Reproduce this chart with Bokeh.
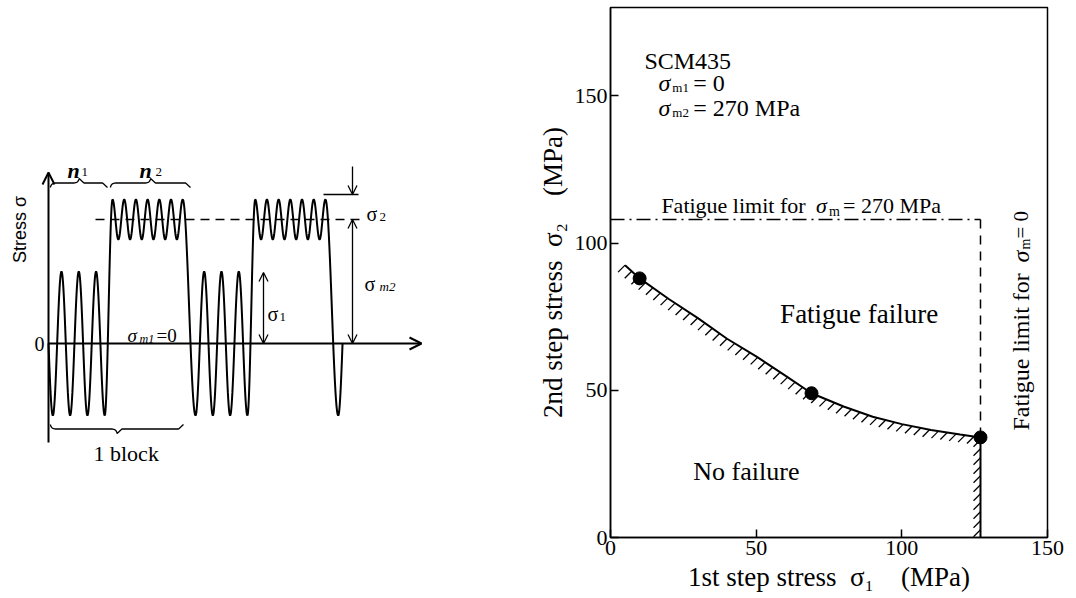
import numpy as np
from bokeh.plotting import figure
from bokeh.layouts import row
from bokeh.models import Label, Arrow, OpenHead, Range1d, FixedTicker
from bokeh.embed import file_html
from bokeh.resources import INLINE

SERIF = "Liberation Serif"
SANS = "Liberation Sans"

# ---------------- data (right chart) ----------------
sigma1_tests = [10, 69, 127]          # 1st step stress (MPa)
sigma2_tests = [88, 49, 34]           # 2nd step stress (MPa)
curve_sigma1 = [5, 10, 20, 30, 40, 50, 60, 69, 80, 90, 100, 110, 120, 127]
curve_sigma2 = [92.5, 88, 81, 74.5, 67.5, 61.5, 55, 49, 44.5, 41, 38.5, 36.5, 35, 34]
fatigue_limit_m270 = 108              # sigma_2 fatigue limit for sigma_m = 270 MPa
fatigue_limit_m0 = 127                # sigma_1 fatigue limit for sigma_m = 0
x_ticks = [0, 50, 100, 150]
y_ticks = [0, 50, 100, 150]

# ---------------- schematic parameters (left) ----------------
n1_cycles, n2_cycles = 3, 7
amp1, mean2, amp2 = 72, 124, 20
period1, period2 = 17.3, 11.7
rise_w, fall_w = 7.8, 12.8

FT, FB = 7, 537          # frame top / bottom (page px)
LW = 534                 # left figure width
H = 598

# =============== LEFT: load pattern schematic ===============
OX, OY = 48, 343
def L(xp, yp):
    return xp - OX, OY - yp

left = figure(width=LW, height=H, x_range=Range1d(0 - OX, LW - OX),
              y_range=Range1d(OY - FB, OY - FT), x_axis_type=None, y_axis_type=None,
              toolbar_location=None, output_backend="svg",
              min_border_left=0, min_border_right=0, min_border_top=FT, min_border_bottom=H - FB,
              outline_line_color=None, title=None)
left.grid.visible = False

def cos_seg(t0, s0, t1, s1, n=24):
    u = np.linspace(0, 1, n)
    return list(t0 + (t1 - t0) * u), list(s0 + (s1 - s0) * (1 - np.cos(np.pi * u)) / 2)

ext = []
T = period1 / 4
for blk in range(2):
    for i in range(n1_cycles + 1):
        ext.append((T + i * period1, -amp1))
        if i < n1_cycles:
            ext.append((T + (i + 0.5) * period1, amp1))
    T2 = T + n1_cycles * period1 + rise_w
    for j in range(n2_cycles):
        ext.append((T2 + j * period2, mean2 + amp2))
        if j < n2_cycles - 1:
            ext.append((T2 + (j + 0.5) * period2, mean2 - amp2))
    T = T2 + (n2_cycles - 1) * period2 + fall_w
ext.append((T, -amp1))

u = np.linspace(0, 1, 16)
wt = list(ext[0][0] * u)
ws = list(-amp1 * np.sin(np.pi / 2 * u))
for (a, b) in zip(ext[:-1], ext[1:]):
    xs, ys = cos_seg(a[0], a[1], b[0], b[1])
    wt += xs[1:]
    ws += ys[1:]
wt += list(T + period1 / 4 * u)
ws += list(-amp1 * np.cos(np.pi / 2 * u))
left.line(wt, ws, line_color="black", line_width=2)

# mean level of 2nd step (dashed)
mx0, _ = L(95, 0)
mx1, _ = L(365, 0)
left.line([mx0, mx1], [mean2, mean2], line_color="black", line_width=1.3, line_dash="9 6")

# axes with arrows
_, ax_y0 = L(48, 442)
_, ax_y1 = L(48, 172)
left.add_layout(Arrow(end=OpenHead(size=12, line_width=2), x_start=0, y_start=ax_y0,
                      x_end=0, y_end=ax_y1, line_width=2))
hx1, _ = L(421, 0)
left.add_layout(Arrow(end=OpenHead(size=12, line_width=2), x_start=0, y_start=0,
                      x_end=hx1, y_end=0, line_width=2))

def brace(x0, x1, y, h, r=5, n=10):
    xm = (x0 + x1) / 2
    th = np.linspace(0, np.pi / 2, n)
    xs, ys = [], []
    xs += list(x0 + r * (1 - np.cos(th))); ys += list(y + h / 2 * np.sin(th))
    xs += list(xm - r + r * np.sin(th)); ys += list(y + h / 2 + h / 2 * (1 - np.cos(th)))
    xs += list(xm + r - r * np.cos(th)); ys += list(y + h / 2 + h / 2 * np.cos(th))
    xs += list(x1 - r * np.cos(th)); ys += list(y + h / 2 * np.cos(th))
    return xs, ys

for (xa, xb) in [(50, 107), (110, 190)]:
    a, sb = L(xa, 187)
    b, _ = L(xb, 187)
    bx, by = brace(a, b, sb, 9)
    left.line(bx, by, line_color="black", line_width=1.3)
a, sb = L(50, 424)
b, _ = L(183, 424)
bx, by = brace(a, b, sb, -9)
left.line(bx, by, line_color="black", line_width=1.3)

# dimension arrows
tx, ty0 = L(263, 343)
_, ty1 = L(263, 272)
left.add_layout(Arrow(start=OpenHead(size=9, line_width=1.3), end=OpenHead(size=9, line_width=1.3),
                      x_start=tx, y_start=ty0, x_end=tx, y_end=ty1, line_width=1.3))
dx, _ = L(352, 0)
_, d_top = L(352, 166)
_, d_pk = L(352, 194)
left.add_layout(Arrow(end=OpenHead(size=9, line_width=1.3), x_start=dx, y_start=d_top,
                      x_end=dx, y_end=d_pk, line_width=1.3))
left.add_layout(Arrow(start=OpenHead(size=9, line_width=1.3), end=OpenHead(size=9, line_width=1.3),
                      x_start=dx, y_start=mean2, x_end=dx, y_end=0, line_width=1.3))
px0, _ = L(323, 0)
px1, _ = L(358, 0)
left.line([px0, px1], [d_pk, d_pk], line_color="black", line_width=1.3)

def lt(xp, yp, text, size, font=SERIF, style="normal", align="left", baseline="alphabetic", angle=0):
    x, y = L(xp, yp)
    left.add_layout(Label(x=x, y=y, text=text, text_font=font, text_font_size=f"{size}px",
                          text_font_style=style, text_align=align, text_baseline=baseline,
                          angle=angle, text_color="black"))

lt(44, 343, "0", 20, align="right", baseline="middle")
lt(19, 229, "Stress σ", 18, font=SANS, align="center", baseline="middle", angle=np.pi / 2)
lt(67, 170, "n", 22, style="bold italic")
lt(81, 171, "1", 13)
lt(139, 170, "n", 22, style="bold italic")
lt(155, 171, "2", 13)
lt(93, 453, "1 block", 22)
lt(127, 335, "σ", 19, style="italic")
lt(139, 338, "m1", 12, style="italic")
lt(156, 335, "=0", 19)
lt(267, 313, "σ", 20)
lt(279, 316, "1", 13)
lt(366, 213, "σ", 20)
lt(379, 216, "2", 13)
lt(364, 283, "σ", 20)
lt(379, 286, "m2", 13, style="italic")

# =============== RIGHT: sigma1-sigma2 diagram ===============
RW = 1076 - LW
MBL = 609 - LW
right = figure(width=RW, height=H, x_range=Range1d(0, 150), y_range=Range1d(0, 180),
               toolbar_location=None, output_backend="svg", title=None,
               min_border_left=MBL, min_border_right=RW - MBL - 438,
               min_border_top=FT, min_border_bottom=H - FB)
right.grid.visible = False
right.outline_line_color = "black"
right.outline_line_width = 1.5
for ax, ticks in ((right.xaxis, x_ticks), (right.yaxis, y_ticks)):
    ax.ticker = FixedTicker(ticks=ticks)
    ax.major_tick_in = 8
    ax.major_tick_out = 0
    ax.minor_tick_line_color = None
    ax.axis_line_width = 1.5
    ax.major_tick_line_width = 1.5
    ax.major_label_text_font = SERIF
    ax.major_label_text_font_size = "22px"
    ax.major_label_text_color = "black"
    ax.major_label_standoff = 3
    ax.axis_label_text_font = SERIF
    ax.axis_label_text_font_size = "27px"
    ax.axis_label_text_font_style = "normal"
    ax.axis_label_text_color = "black"
    ax.axis_label_standoff = 4
right.xaxis.axis_label = "1st step stress\u2002σ\u2081\u2003(MPa)"
right.yaxis.axis_label = "2nd step stress\u2002σ\u2082\u2003(MPa)"

SX = 438 / 150
SY = (FB - FT) / 180
def R(xp, yp):
    return (xp - 609) / SX, 180 - (yp - FT) / SY

# limit lines
right.line([0, fatigue_limit_m0], [fatigue_limit_m270, fatigue_limit_m270],
           line_color="black", line_width=1.5, line_dash="14 5 2 5")
right.line([fatigue_limit_m0, fatigue_limit_m0], [fatigue_limit_m270, sigma2_tests[-1]],
           line_color="black", line_width=1.5, line_dash="9 7")

# boundary curve + vertical to axis
path_x = curve_sigma1 + [fatigue_limit_m0]
path_y = curve_sigma2 + [0]
right.line(path_x, path_y, line_color="black", line_width=2)

# hatching along boundary (toward no-failure side)
hx0, hy0, hx1, hy1 = [], [], [], []
spacing = 9.0
carry = 0.0
for i in range(len(path_x) - 1):
    X0, Y0 = path_x[i] * SX, path_y[i] * SY
    X1, Y1 = path_x[i + 1] * SX, path_y[i + 1] * SY
    seg = np.hypot(X1 - X0, Y1 - Y0)
    d = carry
    while d <= seg:
        f = d / seg
        xx = (X0 + f * (X1 - X0)) / SX
        yy = (Y0 + f * (Y1 - Y0)) / SY
        hx0.append(xx); hy0.append(yy)
        hx1.append(xx - 7 / SX); hy1.append(yy - 7 / SY)
        d += spacing
    carry = d - seg
right.segment(hx0, hy0, hx1, hy1, line_color="black", line_width=1.3)

right.scatter(sigma1_tests, sigma2_tests, size=13, color="black")

def rt(xp, yp, text, size, style="normal", align="left", baseline="alphabetic", angle=0):
    x, y = R(xp, yp)
    right.add_layout(Label(x=x, y=y, text=text, text_font=SERIF, text_font_size=f"{size}px",
                           text_font_style=style, text_align=align, text_baseline=baseline,
                           angle=angle, text_color="black"))

rt(643, 60, "SCM435", 24)
rt(657, 82, "σ", 24, style="italic")
rt(671, 87, "m1", 13)
rt(692, 82, "= 0", 24)
rt(657, 107, "σ", 24, style="italic")
rt(671, 112, "m2", 13)
rt(692, 107, "= 270 MPa", 24)

rt(660, 205, "Fatigue limit for", 22)
rt(815, 205, "σ", 22, style="italic")
rt(828, 211, "m", 14)
rt(842, 205, "= 270 MPa", 22)

rt(779, 313, "Fatigue failure", 27)
rt(692, 471, "No failure", 26)

A = np.pi / 2
rt(1020, 430, "Fatigue limit for", 24, angle=A)
rt(1020, 262, "σ", 24, style="italic", angle=A)
rt(1025, 249, "m", 14, angle=A)
rt(1020, 238, "= 0", 21, angle=A)

layout = row(left, right)
open("out.html", "w").write(file_html(layout, INLINE))
